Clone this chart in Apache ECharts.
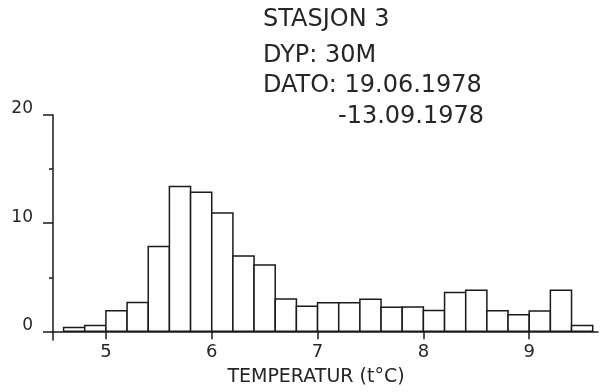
<!DOCTYPE html>
<html>
<head>
<meta charset="utf-8">
<script src="https://cdn.jsdelivr.net/npm/echarts@6/dist/echarts.min.js"></script>
<style>html,body{margin:0;padding:0;background:#fff}#c{width:609px;height:392px}</style>
</head>
<body>
<div id="c"></div>
<script>
// Temperature bins (left edges, °C), width 0.2
var binStart = [4.6, 4.8, 5.0, 5.2, 5.4, 5.6, 5.8, 6.0, 6.2, 6.4, 6.6, 6.8, 7.0, 7.2, 7.4, 7.6, 7.8, 8.0, 8.2, 8.4, 8.6, 8.8, 9.0, 9.2, 9.4];
var binWidth = 0.2;
// Frequency (%)
var freq = [0.35, 0.54, 1.9, 2.67, 7.85, 13.4, 12.85, 10.95, 6.96, 6.13, 3.0, 2.33, 2.64, 2.64, 2.96, 2.22, 2.25, 1.92, 3.6, 3.8, 1.9, 1.54, 1.88, 3.8, 0.53];
var xTicks = [5, 6, 7, 8, 9];
var yMajorTicks = [0, 10, 20];
var yMinorTicks = [5, 15];
var yLabels = [0, 10, 20];
var titleLines = ['STASJON 3', 'DYP: 30M', 'DATO: 19.06.1978', '-13.09.1978'];
var xTitle = 'TEMPERATUR (t°C)';

var data = binStart.map(function (s, i) { return [s, s + binWidth, freq[i]]; });
var FONT = 'DejaVu Sans';
var INK = '#1a1a1a';
var TXT = '#262626';

var chart = echarts.init(document.getElementById('c'), null, { renderer: 'canvas' });
chart.setOption({
  animation: false,
  backgroundColor: '#fff',
  grid: { left: 53, right: 11, top: 115, bottom: 52 },
  xAxis: {
    type: 'value', min: 4.5, max: 9.65,
    axisLine: { onZero: true, lineStyle: { color: INK, width: 1.5 } },
    axisTick: { customValues: xTicks, length: 8, lineStyle: { color: INK, width: 1.5 } },
    axisLabel: { customValues: xTicks, margin: 3, fontFamily: FONT, fontSize: 18, color: TXT },
    splitLine: { show: false }
  },
  yAxis: [{
    type: 'value', min: -0.8, max: 20, position: 'left',
    axisLine: { show: true, onZero: false, lineStyle: { color: INK, width: 1.5 } },
    axisTick: { show: true, customValues: yMajorTicks, length: 10, lineStyle: { color: INK, width: 1.5 } },
    axisLabel: { customValues: yLabels, margin: 20, fontFamily: FONT, fontSize: 17, color: TXT, verticalAlign: 'bottom', lineHeight: 12 },
    splitLine: { show: false }
  }, {
    type: 'value', min: -0.8, max: 20, position: 'left', offset: 0,
    axisLine: { show: false, onZero: false },
    axisTick: { show: true, customValues: yMinorTicks, length: 4, lineStyle: { color: INK, width: 1.5 } },
    axisLabel: { show: false },
    splitLine: { show: false }
  }],
  graphic: [
    { type: 'text', left: 263, top: 8, style: { text: titleLines[0], font: '24px "DejaVu Sans"', fill: TXT } },
    { type: 'text', left: 263, top: 44, style: { text: titleLines[1], font: '24px "DejaVu Sans"', fill: TXT } },
    { type: 'text', left: 263, top: 74, style: { text: titleLines[2], font: '24px "DejaVu Sans"', fill: TXT } },
    { type: 'text', left: 338, top: 105, style: { text: titleLines[3], font: '24px "DejaVu Sans"', fill: TXT } },
    { type: 'text', x: 316, y: 377, style: { text: xTitle, font: '19px "DejaVu Sans"', fill: TXT, align: 'center', verticalAlign: 'middle' } }
  ],
  series: [{
    type: 'custom',
    data: data,
    encode: { x: [0, 1], y: 2 },
    renderItem: function (params, api) {
      var p0 = api.coord([api.value(0), 0]);
      var p1 = api.coord([api.value(1), api.value(2)]);
      return {
        type: 'rect',
        shape: { x: p0[0], y: p1[1], width: p1[0] - p0[0], height: p0[1] - p1[1] },
        style: { fill: '#fff', stroke: INK, lineWidth: 1.5 }
      };
    }
  }]
});
</script>
</body>
</html>
